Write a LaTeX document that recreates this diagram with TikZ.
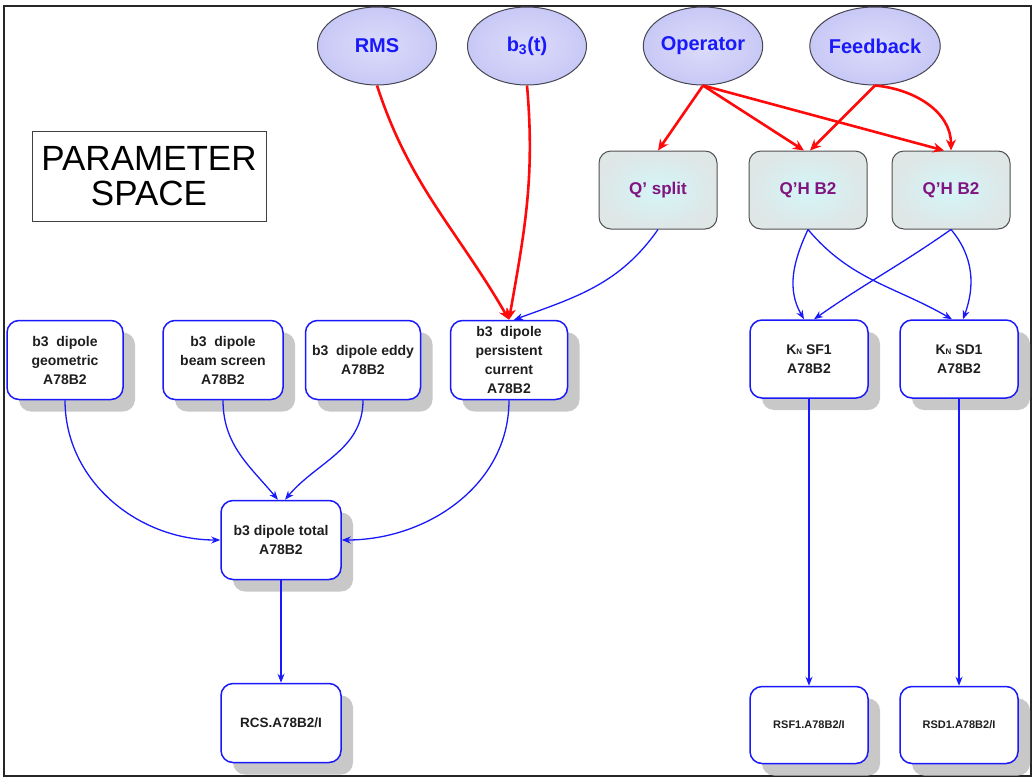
\documentclass[tikz,border=0pt]{standalone}
\usepackage{fontspec}
\setmainfont{Liberation Sans}
\usetikzlibrary{shapes.geometric,arrows.meta,shadows}

\definecolor{boxblue}{RGB}{25,25,250}
\definecolor{ellring}{RGB}{70,70,85}
\definecolor{qring}{RGB}{80,80,80}
\definecolor{qtext}{RGB}{128,20,128}
\definecolor{txtdark}{RGB}{30,30,30}
\definecolor{shadegray}{RGB}{200,200,200}
\definecolor{arrred}{RGB}{255,10,10}

\tikzset{
  param/.style={ellipse,draw=ellring,line width=1pt,shading=radial,
    inner color={rgb,255:red,220;green,220;blue,250},outer color={rgb,255:red,200;green,200;blue,246},
    minimum width=119pt,minimum height=78pt,inner sep=0pt,text=boxblue,
    font=\bfseries\fontsize{20}{23}\selectfont},
  knob/.style={draw=qring,line width=1pt,rounded corners=12pt,shading=radial,
    inner color={rgb,255:red,212;green,246;blue,248},outer color={rgb,255:red,222;green,230;blue,230},
    minimum width=118pt,minimum height=78pt,inner sep=0pt,text=qtext,
    font=\bfseries\fontsize{17}{20}\selectfont},
  wbox/.style={draw=boxblue,line width=1.5pt,fill=white,rounded corners=12pt,
    minimum width=117pt,minimum height=79pt,inner sep=0pt,align=center,text=txtdark,
    font=\bfseries\fontsize{14}{19}\selectfont,
    drop shadow={shadow xshift=12pt,shadow yshift=-12pt,fill=shadegray,opacity=1}},
  redarr/.style={arrred,line width=2.6pt,-{Stealth[length=11pt,width=10pt]}},
  bluearr/.style={boxblue,line width=1.3pt,-{Stealth[length=9pt,width=7pt]}}
}

\begin{document}
\begin{tikzpicture}[x=1pt,y=-1pt]

\useasboundingbox (0,0) rectangle (1035,779);
\draw[line width=2pt,black!85] (4,6) rectangle (1031,776);

\node[draw=black!75,line width=1pt,minimum width=234pt,minimum height=90pt,align=center,
  font=\fontsize{35}{35}\selectfont] (space) at (149,176) {PARAMETER\\SPACE};

\node[param] (rms) at (377,46) {RMS};
\node[param] (b3t) at (527,46) {b\textsubscript{3}(t)};
\node[param] (op) at (703,46) {Operator};
\node[param,minimum width=125pt] (fb) at (875,46) {Feedback};

\node[knob] (qsplit) at (658,190) {Q’ split};
\node[knob] (qh1) at (808,190) {Q’H B2};
\node[knob] (qh2) at (951,190) {Q’H B2};

\node[wbox,minimum width=116pt] (geo) at (65,360) {b3\ \ dipole\\geometric\\A78B2};
\node[wbox,minimum width=120pt] (beam) at (223,360) {b3\ \ dipole\\beam screen\\A78B2};
\node[wbox,minimum width=115pt] (eddy) at (363,360) {b3\ \ dipole eddy\\A78B2};
\node[wbox] (pers) at (509,360) {b3\ \ dipole\\persistent\\current\\A78B2};
\node[wbox,minimum width=120pt] (total) at (281,540) {b3 dipole total\\A78B2};
\node[wbox,minimum width=120pt,font=\bfseries\fontsize{13.5}{16}\selectfont] (rcs) at (281,723) {RCS.A78B2/I};

\node[wbox,minimum width=118pt,minimum height=78pt] (sf1) at (809,359) {K{\fontsize{8}{8}\selectfont N} SF1\\A78B2};
\node[wbox,minimum width=118pt,minimum height=78pt] (sd1) at (959,359) {K{\fontsize{8}{8}\selectfont N} SD1\\A78B2};
\node[wbox,minimum width=118pt,minimum height=77pt,font=\bfseries\fontsize{11}{13}\selectfont] (rsf1) at (809,725) {RSF1.A78B2/I};
\node[wbox,minimum width=118pt,minimum height=77pt,font=\bfseries\fontsize{11}{13}\selectfont] (rsd1) at (959,725) {RSD1.A78B2/I};

\draw[redarr] (rms.south) to[out=-72,in=120] (pers.north);
\draw[redarr] (b3t.south) to[out=-85,in=80] (pers.north);
\draw[redarr] (op.south) -- (qsplit.north);
\draw[redarr] (op.south) -- ([xshift=-4pt]qh1.north);
\draw[redarr] (op.south) -- ([xshift=-7pt]qh2.north);
\draw[redarr] (fb.south) -- ([xshift=2pt]qh1.north);
\draw[redarr] (fb.south) to[out=-5,in=90] (qh2.north);

\draw[bluearr] (qsplit.south) to[out=-125,in=20] ([xshift=5pt]pers.north);
\draw[bluearr] (qh1.south) to[out=-115,in=120] ([xshift=-5pt]sf1.north);
\draw[bluearr] (qh1.south) to[out=-50,in=150] ([xshift=-7pt]sd1.north);
\draw[bluearr] (qh2.south) to[out=-145,in=35] ([xshift=5pt]sf1.north);
\draw[bluearr] (qh2.south) to[out=-50,in=70] ([xshift=4pt]sd1.north);

\draw[bluearr] (geo.south) to[out=-90,in=180] (total.west);
\draw[bluearr] (beam.south) to[out=-90,in=130] ([xshift=-3pt]total.north);
\draw[bluearr] (eddy.south) to[out=-90,in=50] ([xshift=4pt]total.north);
\draw[bluearr] (pers.south) to[out=-90,in=0] (total.east);
\draw[bluearr] (total.south) -- (rcs.north);
\draw[bluearr] (sf1.south) -- (rsf1.north);
\draw[bluearr] (sd1.south) -- (rsd1.north);

\end{tikzpicture}
\end{document}
